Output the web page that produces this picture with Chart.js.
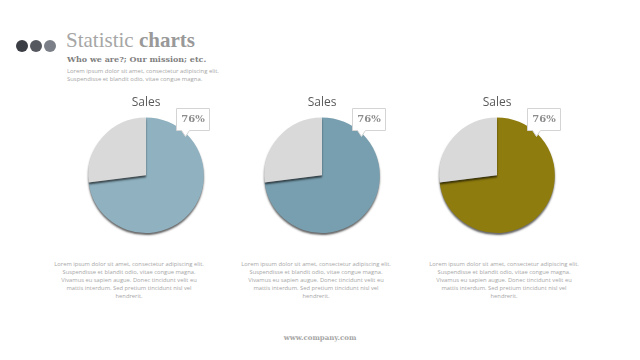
<!DOCTYPE html>
<html>
<head>
<meta charset="utf-8">
<script src="https://cdn.jsdelivr.net/npm/chart.js@4.4.1/dist/chart.umd.min.js"></script>
<style>
  html, body { margin: 0; padding: 0; background: #fff; }
  body { width: 640px; height: 360px; position: relative; overflow: hidden; font-family: "Open Sans", sans-serif; }
  .dot { position: absolute; top: 40px; width: 12px; height: 12px; border-radius: 50%; }
  .title { position: absolute; left: 66px; top: 28px; font-family: "Liberation Serif", serif; font-size: 21px; color: #a6a6a6; }
  .title b { color: #999; }
  .sub { position: absolute; left: 67px; top: 54px; font-family: "DejaVu Serif", serif; font-weight: bold; font-size: 8px; color: #7f7f7f; }
  .intro { position: absolute; left: 67px; top: 67px; font-size: 5.9px; line-height: 8.4px; color: #a6a6a6; }
  .box { position: absolute; top: 95px; width: 150px; height: 146px; }
  .desc { position: absolute; top: 260px; width: 190px; text-align: center; font-size: 5.8px; line-height: 8.1px; color: #a6a6a6; }
  .foot { position: absolute; left: 0; width: 640px; top: 333px; text-align: center; font-family: "DejaVu Serif", serif; font-weight: bold; font-size: 7px; color: #a6a6a6; }
</style>
</head>
<body>
<div class="dot" style="left:16px;background:#3b3e45"></div>
<div class="dot" style="left:30px;background:#55595f"></div>
<div class="dot" style="left:44px;background:#7b7f87"></div>
<div class="title">Statistic <b>charts</b></div>
<div class="sub">Who we are?; Our mission; etc.</div>
<div class="intro">Lorem ipsum dolor sit amet, consectetur adipiscing elit.<br>Suspendisse et blandit odio, vitae congue magna.</div>

<div class="box" style="left:71px"><canvas id="pie1"></canvas></div>
<div class="box" style="left:247px"><canvas id="pie2"></canvas></div>
<div class="box" style="left:422px"><canvas id="pie3"></canvas></div>

<div class="desc" style="left:34px">Lorem ipsum dolor sit amet, consectetur adipiscing elit.<br>Suspendisse et blandit odio, vitae congue magna.<br>Vivamus eu sapien augue. Donec tincidunt velit eu<br>mattis interdum. Sed pretium tincidunt nisl vel<br>hendrerit.</div>
<div class="desc" style="left:221px">Lorem ipsum dolor sit amet, consectetur adipiscing elit.<br>Suspendisse et blandit odio, vitae congue magna.<br>Vivamus eu sapien augue. Donec tincidunt velit eu<br>mattis interdum. Sed pretium tincidunt nisl vel<br>hendrerit.</div>
<div class="desc" style="left:409px">Lorem ipsum dolor sit amet, consectetur adipiscing elit.<br>Suspendisse et blandit odio, vitae congue magna.<br>Vivamus eu sapien augue. Donec tincidunt velit eu<br>mattis interdum. Sed pretium tincidunt nisl vel<br>hendrerit.</div>
<div class="foot">www.company.com</div>

<script>
const labels = ['Sales', 'Other'];
// slices as drawn in the picture (label reads 76%)
const sales1 = [73, 27];
const sales2 = [73, 27];
const sales3 = [73, 27];
const callouts = ['76%', '76%', '76%'];

// thin dark shadow under the pie
const shadowPlugin = {
    id: 'pieShadow',
    beforeDatasetsDraw(chart) {
        const ctx = chart.ctx;
        ctx.save();
        ctx.shadowColor = 'rgba(0,0,0,0.6)';
        ctx.shadowBlur = 2;
        ctx.shadowOffsetY = 2;
    },
    afterDatasetsDraw(chart) {
        chart.ctx.restore();
    }
};

// "76%" callout box at upper right of the pie
const calloutPlugin = {
    id: 'callout',
    afterDraw(chart, args, opts) {
        const arc = chart.getDatasetMeta(0).data[0];
        if (!arc) return;
        const ctx = chart.ctx;
        const x = Math.round(arc.x + 30) + 0.5, y = Math.round(arc.y - 67) + 0.5, w = 33, h = 22;
        ctx.save();
        ctx.beginPath();
        ctx.moveTo(x, y);
        ctx.lineTo(x + w, y);
        ctx.lineTo(x + w, y + h);
        ctx.lineTo(x + 13, y + h);
        ctx.lineTo(x + 9, y + h + 6);
        ctx.lineTo(x + 5, y + h);
        ctx.lineTo(x, y + h);
        ctx.closePath();
        ctx.fillStyle = '#ffffff';
        ctx.fill();
        ctx.strokeStyle = '#d4d4d4';
        ctx.lineWidth = 1;
        ctx.stroke();
        ctx.fillStyle = '#8c8c8c';
        ctx.font = 'bold 10px "DejaVu Serif", serif';
        ctx.textAlign = 'center';
        ctx.textBaseline = 'middle';
        ctx.fillText(opts.text, x + w / 2, y + h / 2);
        ctx.restore();
    }
};

function drawPie(id, values, color, text) {
    const canvas = document.getElementById(id);
    if (!canvas) return;
    new Chart(canvas.getContext('2d'), {
        type: 'pie',
        data: {
            labels: labels,
            datasets: [{
                data: values,
                backgroundColor: [color, '#d9d9d9'],
                borderWidth: 0
            }]
        },
        options: {
            responsive: true,
            maintainAspectRatio: false,
            animation: false,
            layout: { padding: { bottom: 8 } },
            plugins: {
                legend: { display: false },
                tooltip: { enabled: false },
                title: {
                    display: true,
                    text: 'Sales',
                    color: '#595959',
                    font: { family: 'Open Sans', size: 12, weight: 'normal' },
                    padding: { top: 0, bottom: 8 }
                },
                callout: { text: text }
            }
        },
        plugins: [shadowPlugin, calloutPlugin]
    });
}

drawPie('pie1', sales1, '#8fb1c0', callouts[0]);
drawPie('pie2', sales2, '#789fb0', callouts[1]);
drawPie('pie3', sales3, '#8f7c0e', callouts[2]);
</script>
</body>
</html>
